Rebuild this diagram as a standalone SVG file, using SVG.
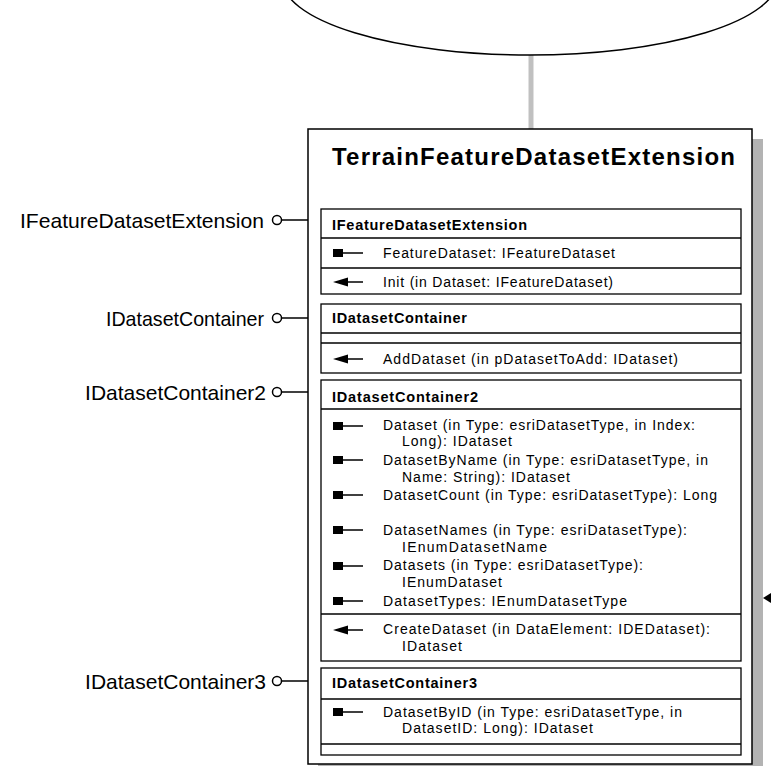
<svg xmlns="http://www.w3.org/2000/svg" width="771" height="766" viewBox="0 0 771 766">
<defs>
<style>
text{font-family:"Liberation Sans",Arial,sans-serif;fill:#000}
.title{font-size:24px;font-weight:bold}
.hdr{font-size:14.5px;font-weight:bold}
.mem{font-size:14px}
.lbl{font-size:21px}
.box{fill:#fff;stroke:#000;stroke-width:1.5}
.sec{fill:#fff;stroke:#000;stroke-width:1.3}
.div{stroke:#000;stroke-width:1.3}
.icl{stroke:#000;stroke-width:1.5}
.lol{stroke:#000;stroke-width:1.5;fill:none}
.circ{fill:#fff;stroke:#000;stroke-width:1.5}
</style>
<g id="prop"><rect x="0" y="-4" width="10" height="8" fill="#000"/><line class="icl" x1="10" y1="0" x2="30" y2="0"/></g>
<g id="meth"><polygon points="0,0 15,-4.5 15,4.5" fill="#000"/><line class="icl" x1="15" y1="0" x2="30" y2="0"/></g>
</defs>
<rect width="771" height="766" fill="#fff"/>

<g id="connectors">
<line x1="531" y1="55" x2="531" y2="129" stroke="#c0c0c0" stroke-width="5"/>
<polygon points="763,598 771,593 771,603" fill="#000"/>
<line class="lol" x1="281" y1="220" x2="308" y2="220"/>
<line class="lol" x1="281" y1="318" x2="308" y2="318"/>
<line class="lol" x1="281" y1="392" x2="308" y2="392"/>
<line class="lol" x1="281" y1="681" x2="308" y2="681"/>
</g>

<g id="parent-node">
<ellipse cx="530" cy="-21" rx="248" ry="76" fill="#fff" stroke="#000" stroke-width="1.5"/>
</g>

<g id="lollipop-IFeatureDatasetExtension">
<circle class="circ" cx="277" cy="220" r="4.5"/>
<text class="lbl" x="20" y="228" textLength="244" lengthAdjust="spacingAndGlyphs">IFeatureDatasetExtension</text>
</g>
<g id="lollipop-IDatasetContainer">
<circle class="circ" cx="277" cy="318" r="4.5"/>
<text class="lbl" x="106" y="326" textLength="158" lengthAdjust="spacingAndGlyphs">IDatasetContainer</text>
</g>
<g id="lollipop-IDatasetContainer2">
<circle class="circ" cx="277" cy="392" r="4.5"/>
<text class="lbl" x="266" y="400" text-anchor="end">IDatasetContainer2</text>
</g>
<g id="lollipop-IDatasetContainer3">
<circle class="circ" cx="277" cy="681" r="4.5"/>
<text class="lbl" x="266" y="689" text-anchor="end">IDatasetContainer3</text>
</g>

<g id="class-TerrainFeatureDatasetExtension">
<rect x="318" y="139" width="445" height="640" fill="#b3b3b3"/>
<rect class="box" x="308" y="129" width="444" height="635"/>
<text class="title" x="332" y="165" textLength="403" lengthAdjust="spacing">TerrainFeatureDatasetExtension</text>

<rect class="sec" x="321" y="209" width="420" height="85"/>
<line class="div" x1="321" y1="238" x2="741" y2="238"/>
<line class="div" x1="321" y1="268" x2="741" y2="268"/>
<text class="hdr" x="332" y="230" textLength="195" lengthAdjust="spacing">IFeatureDatasetExtension</text>
<use href="#prop" x="333" y="253"/>
<text class="mem" x="383" y="258" textLength="232" lengthAdjust="spacing">FeatureDataset: IFeatureDataset</text>
<use href="#meth" x="333" y="282"/>
<text class="mem" x="383" y="287" textLength="230" lengthAdjust="spacing">Init (in Dataset: IFeatureDataset)</text>

<rect class="sec" x="321" y="304" width="420" height="69"/>
<line class="div" x1="321" y1="333" x2="741" y2="333"/>
<line class="div" x1="321" y1="343" x2="741" y2="343"/>
<text class="hdr" x="332" y="323" textLength="135" lengthAdjust="spacing">IDatasetContainer</text>
<use href="#meth" x="333" y="359"/>
<text class="mem" x="383" y="364" textLength="295" lengthAdjust="spacing">AddDataset (in pDatasetToAdd: IDataset)</text>

<rect class="sec" x="321" y="380" width="420" height="281"/>
<line class="div" x1="321" y1="409" x2="741" y2="409"/>
<line class="div" x1="321" y1="614" x2="741" y2="614"/>
<text class="hdr" x="332" y="402" textLength="146" lengthAdjust="spacing">IDatasetContainer2</text>
<use href="#prop" x="333" y="426"/>
<text class="mem" x="383" y="430" textLength="312" lengthAdjust="spacing">Dataset (in Type: esriDatasetType, in Index:</text>
<text class="mem" x="402" y="446" textLength="110" lengthAdjust="spacing">Long): IDataset</text>
<use href="#prop" x="333" y="460"/>
<text class="mem" x="383" y="465" textLength="325" lengthAdjust="spacing">DatasetByName (in Type: esriDatasetType, in</text>
<text class="mem" x="402" y="482" textLength="168" lengthAdjust="spacing">Name: String): IDataset</text>
<use href="#prop" x="333" y="495"/>
<text class="mem" x="383" y="500" textLength="334" lengthAdjust="spacing">DatasetCount (in Type: esriDatasetType): Long</text>
<use href="#prop" x="333" y="530"/>
<text class="mem" x="383" y="535" textLength="304" lengthAdjust="spacing">DatasetNames (in Type: esriDatasetType):</text>
<text class="mem" x="402" y="552" textLength="145" lengthAdjust="spacing">IEnumDatasetName</text>
<use href="#prop" x="333" y="566"/>
<text class="mem" x="383" y="570" textLength="260" lengthAdjust="spacing">Datasets (in Type: esriDatasetType):</text>
<text class="mem" x="402" y="587" textLength="100" lengthAdjust="spacing">IEnumDataset</text>
<use href="#prop" x="333" y="601"/>
<text class="mem" x="383" y="606" textLength="244" lengthAdjust="spacing">DatasetTypes: IEnumDatasetType</text>
<use href="#meth" x="333" y="630"/>
<text class="mem" x="383" y="634" textLength="327" lengthAdjust="spacing">CreateDataset (in DataElement: IDEDataset):</text>
<text class="mem" x="402" y="651" textLength="60" lengthAdjust="spacing">IDataset</text>

<rect class="sec" x="321" y="668" width="420" height="87"/>
<line class="div" x1="321" y1="699" x2="741" y2="699"/>
<line class="div" x1="321" y1="744" x2="741" y2="744"/>
<text class="hdr" x="332" y="688" textLength="145" lengthAdjust="spacing">IDatasetContainer3</text>
<use href="#prop" x="333" y="712"/>
<text class="mem" x="383" y="717" textLength="299" lengthAdjust="spacing">DatasetByID (in Type: esriDatasetType, in</text>
<text class="mem" x="402" y="733" textLength="191" lengthAdjust="spacing">DatasetID: Long): IDataset</text>
</g>
</svg>
